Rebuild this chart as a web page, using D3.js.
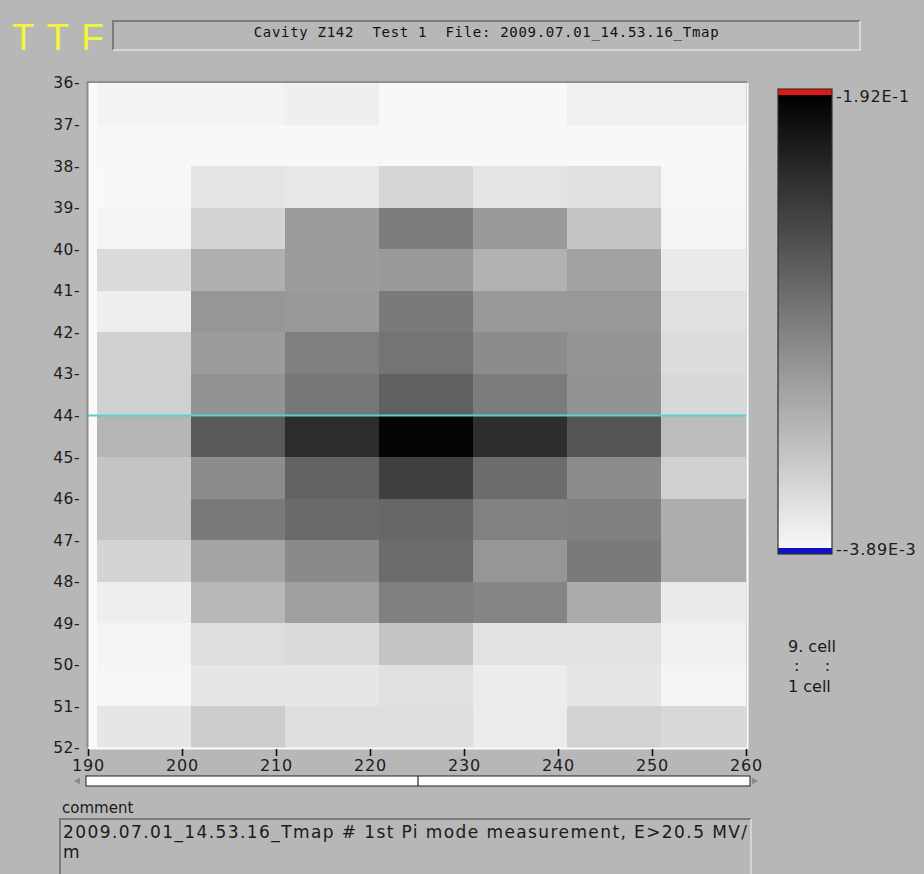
<!DOCTYPE html>
<html>
<head>
<meta charset="utf-8">
<script src="https://cdn.jsdelivr.net/npm/d3@7"></script>
<style>
  html, body { margin: 0; padding: 0; background: #b7b7b7; overflow: hidden; }
  svg { display: block; }
</style>
</head>
<body>
<svg id="chart" width="924" height="874"></svg>
<script>
// Sensor grid: left edge of each column (x) and top of each row (y)
const colStarts = [191, 201, 211, 221, 231, 241, 251];
const colWidth = 10;
const rowStarts = [36, 37, 38, 39, 40, 41, 42, 43, 44, 45, 46, 47, 48, 49, 50, 51];

// Axis ticks
const xTicks = [190, 200, 210, 220, 230, 240, 250, 260];
const yTicks = [36, 37, 38, 39, 40, 41, 42, 43, 44, 45, 46, 47, 48, 49, 50, 51, 52];

// Temperature signal per cell, one array per row (rows 36..51, columns 191..251)
const values = [
  [ 0.0000,  0.0000,  0.0032, -0.0039, -0.0039,  0.0024,  0.0024],
  [-0.0030, -0.0039, -0.0039, -0.0039, -0.0039, -0.0039, -0.0039],
  [-0.0039,  0.0119,  0.0087,  0.0229,  0.0119,  0.0150, -0.0023],
  [-0.0008,  0.0245,  0.0688,  0.0940,  0.0711,  0.0372, -0.0008],
  [ 0.0198,  0.0530,  0.0688,  0.0711,  0.0514,  0.0640,  0.0071],
  [ 0.0040,  0.0735,  0.0711,  0.0956,  0.0711,  0.0719,  0.0150],
  [ 0.0277,  0.0688,  0.0917,  0.1004,  0.0814,  0.0743,  0.0182],
  [ 0.0277,  0.0759,  0.0980,  0.1162,  0.0940,  0.0759,  0.0214],
  [ 0.0490,  0.1209,  0.1572,  0.1880,  0.1557,  0.1249,  0.0435],
  [ 0.0372,  0.0814,  0.1138,  0.1422,  0.1067,  0.0814,  0.0277],
  [ 0.0372,  0.0956,  0.1083,  0.1106,  0.0893,  0.0909,  0.0553],
  [ 0.0245,  0.0624,  0.0830,  0.1067,  0.0735,  0.0956,  0.0561],
  [ 0.0040,  0.0466,  0.0656,  0.0909,  0.0869,  0.0569,  0.0071],
  [-0.0008,  0.0166,  0.0198,  0.0372,  0.0135,  0.0135,  0.0024],
  [-0.0023,  0.0103,  0.0103,  0.0150,  0.0056,  0.0103, -0.0008],
  [ 0.0103,  0.0308,  0.0166,  0.0166,  0.0064,  0.0261,  0.0214]
];

// Colour scale limits
const scaleMin = -0.00389;
const scaleMax = 0.192;

// Highlighted row
const markerRow = 44;

// Texts
const logoText = "TTF";
const titleText = "Cavity Z142  Test 1  File: 2009.07.01_14.53.16_Tmap";
const commentTitle = "comment";
const commentLines = ["2009.07.01_14.53.16_Tmap # 1st Pi mode measurement, E>20.5 MV/", "m"];
const cellLabels = ["9. cell", ":     :", "1 cell"];

const svg = d3.select("#chart");
const bg = "#b7b7b7";
svg.append("rect").attr("width", 924).attr("height", 874).attr("fill", bg);

// ---------- header ----------
svg.append("text")
  .attr("x", 12).attr("y", 50)
  .attr("font-family", "Liberation Sans, Arial, sans-serif")
  .attr("font-size", 37)
  .attr("letter-spacing", "12px")
  .attr("fill", "#f4f43a")
  .text(logoText);

const tb = { x0: 113, x1: 860, y0: 21, y1: 50 };
svg.append("rect").attr("x", tb.x0).attr("y", tb.y0)
  .attr("width", tb.x1 - tb.x0).attr("height", tb.y1 - tb.y0).attr("fill", bg);
svg.append("path").attr("d", `M${tb.x0},${tb.y1} V${tb.y0} H${tb.x1}`)
  .attr("fill", "none").attr("stroke", "#7c7c7c").attr("stroke-width", 2);
svg.append("path").attr("d", `M${tb.x0},${tb.y1} H${tb.x1} V${tb.y0}`)
  .attr("fill", "none").attr("stroke", "#e2e2e2").attr("stroke-width", 1.5);
svg.append("text")
  .attr("x", (tb.x0 + tb.x1) / 2).attr("y", 37)
  .attr("text-anchor", "middle")
  .attr("font-family", "DejaVu Sans Mono, monospace")
  .attr("font-size", 14)
  .attr("letter-spacing", "0.7px")
  .style("white-space", "pre")
  .attr("fill", "#111")
  .text(titleText);

// ---------- heat map ----------
const plot = { left: 88, right: 746, top: 83, bottom: 748 };
const x = d3.scaleLinear().domain([190, 260]).range([plot.left, plot.right]);
const y = d3.scaleLinear().domain([36, 52]).range([plot.top, plot.bottom]);
const color = d3.scaleLinear().domain([scaleMin, scaleMax]).range(["#f8f8f8", "#000000"]).clamp(true);

svg.append("rect")
  .attr("x", plot.left).attr("y", plot.top)
  .attr("width", plot.right - plot.left).attr("height", plot.bottom - plot.top)
  .attr("fill", "#fafafa");

const cells = [];
rowStarts.forEach((r, i) => colStarts.forEach((c, j) => cells.push({ r, c, v: values[i][j] })));

svg.append("g").attr("shape-rendering", "crispEdges")
  .selectAll("rect").data(cells).join("rect")
  .attr("x", d => x(d.c))
  .attr("y", d => y(d.r))
  .attr("width", d => x(Math.min(d.c + colWidth, 260)) - x(d.c))
  .attr("height", d => y(d.r + 1) - y(d.r))
  .attr("fill", d => color(d.v));

// frame: dark top/left, light bottom/right
svg.append("path").attr("d", `M${plot.left - 0.5},${plot.bottom} V${plot.top - 1} H${plot.right + 1}`)
  .attr("fill", "none").attr("stroke", "#8e8e8e").attr("stroke-width", 2);
svg.append("path").attr("d", `M${plot.left},${plot.bottom + 0.5} H${plot.right + 1.5} V${plot.top}`)
  .attr("fill", "none").attr("stroke", "#fbfbfb").attr("stroke-width", 2);

// marker line
svg.append("line")
  .attr("x1", plot.left).attr("x2", plot.right)
  .attr("y1", y(markerRow)).attr("y2", y(markerRow))
  .attr("stroke", "#52d4d2").attr("stroke-width", 2);

// axes
const axisFont = "DejaVu Sans, sans-serif";
const xAxis = svg.append("g")
  .attr("transform", `translate(0,${plot.bottom + 1})`)
  .call(d3.axisBottom(x).tickValues(xTicks).tickSize(7).tickPadding(4).tickFormat(d3.format("d")));
xAxis.select(".domain").remove();
xAxis.selectAll(".tick line").attr("stroke", "#111").attr("stroke-width", 1.6);
xAxis.selectAll("text").attr("font-family", axisFont).attr("font-size", 16)
  .attr("letter-spacing", "0.8px").attr("fill", "#1c1c1c");

const yAxis = svg.append("g")
  .attr("transform", `translate(${plot.left},0)`)
  .call(d3.axisLeft(y).tickValues(yTicks).tickSize(0).tickPadding(8).tickFormat(d => d + "-"));
yAxis.select(".domain").remove();
yAxis.selectAll("text").attr("font-family", axisFont).attr("font-size", 15.5)
  .attr("letter-spacing", "0.5px").attr("fill", "#1c1c1c");

// ---------- scroll bar under the map ----------
const sb = { x0: 86, x1: 750, y0: 776, y1: 786 };
svg.append("rect").attr("x", sb.x0).attr("y", sb.y0)
  .attr("width", sb.x1 - sb.x0).attr("height", sb.y1 - sb.y0)
  .attr("fill", "#fdfdfd").attr("stroke", "#222").attr("stroke-width", 1);
svg.append("line").attr("x1", 418).attr("x2", 418).attr("y1", sb.y0).attr("y2", sb.y1)
  .attr("stroke", "#222").attr("stroke-width", 1.2);
svg.append("path").attr("d", "M74,781 L80,777.5 L80,784.5 Z").attr("fill", "#8a8a8a");
svg.append("path").attr("d", "M758,781 L752,777.5 L752,784.5 Z").attr("fill", "#8a8a8a");

// ---------- comment ----------
svg.append("text").attr("x", 62).attr("y", 813)
  .attr("font-family", axisFont).attr("font-size", 15)
  .attr("fill", "#1a1a1a").text(commentTitle);
const cb = { x0: 60, x1: 751, y0: 819, y1: 890 };
svg.append("path").attr("d", `M${cb.x0},${cb.y1} V${cb.y0} H${cb.x1}`)
  .attr("fill", "none").attr("stroke", "#7a7a7a").attr("stroke-width", 2);
svg.append("path").attr("d", `M${cb.x1},${cb.y0} V${cb.y1}`)
  .attr("fill", "none").attr("stroke", "#dcdcdc").attr("stroke-width", 1.5);
svg.append("text").attr("x", 63).attr("y", 838)
  .attr("font-family", axisFont).attr("font-size", 17)
  .attr("textLength", 684).attr("lengthAdjust", "spacing")
  .attr("fill", "#1a1a1a").text(commentLines[0]);
svg.append("text").attr("x", 63).attr("y", 858)
  .attr("font-family", axisFont).attr("font-size", 17)
  .attr("fill", "#1a1a1a").text(commentLines[1]);

// ---------- colour bar ----------
const bar = { x0: 778, x1: 832, top: 89, bottom: 554 };
const cbY = d3.scaleLinear().domain([scaleMin, scaleMax]).range([548, 95]);
const grad = svg.append("defs").append("linearGradient")
  .attr("id", "cbar").attr("x1", 0).attr("x2", 0).attr("y1", 1).attr("y2", 0);
d3.range(0, 1.0001, 0.1).forEach(t => {
  grad.append("stop").attr("offset", t)
    .attr("stop-color", color(scaleMin + t * (scaleMax - scaleMin)));
});
svg.append("rect").attr("x", bar.x0).attr("y", cbY(scaleMax))
  .attr("width", bar.x1 - bar.x0).attr("height", cbY(scaleMin) - cbY(scaleMax))
  .attr("fill", "url(#cbar)");
svg.append("rect").attr("x", bar.x0).attr("y", bar.top)
  .attr("width", bar.x1 - bar.x0).attr("height", cbY(scaleMax) - bar.top)
  .attr("fill", "#e01818");
svg.append("rect").attr("x", bar.x0).attr("y", cbY(scaleMin))
  .attr("width", bar.x1 - bar.x0).attr("height", bar.bottom - cbY(scaleMin))
  .attr("fill", "#1010c8");
svg.append("rect").attr("x", bar.x0).attr("y", bar.top)
  .attr("width", bar.x1 - bar.x0).attr("height", bar.bottom - bar.top)
  .attr("fill", "none").attr("stroke", "#333").attr("stroke-width", 1.2);

const cAxis = svg.append("g")
  .attr("transform", `translate(${bar.x1},1)`)
  .call(d3.axisRight(cbY).tickValues([scaleMax, scaleMin]).tickSize(0).tickPadding(4)
    .tickFormat(v => "-" + v.toExponential(2).toUpperCase()));
cAxis.select(".domain").remove();
cAxis.selectAll("text").attr("font-family", axisFont).attr("font-size", 16)
  .attr("letter-spacing", "0.8px").attr("fill", "#1a1a1a");

// ---------- cell range note ----------
const noteY = [652, 671, 692];
svg.append("g").selectAll("text").data(cellLabels).join("text")
  .attr("x", (d, i) => i === 1 ? 794 : 788)
  .attr("y", (d, i) => noteY[i])
  .attr("font-family", axisFont).attr("font-size", 16)
  .style("white-space", "pre")
  .attr("fill", "#1a1a1a")
  .text(d => d);
</script>
</body>
</html>
